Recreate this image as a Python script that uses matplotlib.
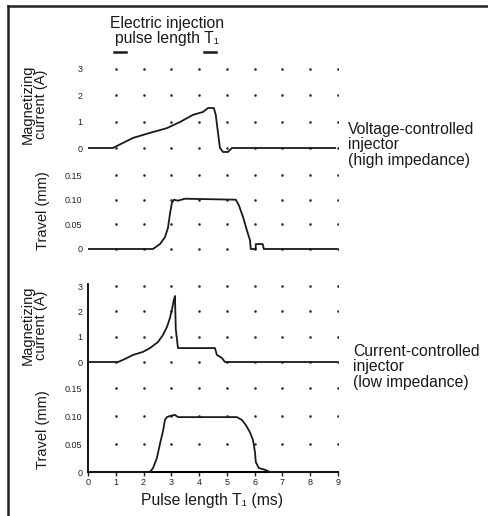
import matplotlib
matplotlib.use("Agg")
import matplotlib.pyplot as plt
from matplotlib.lines import Line2D
import numpy as np

plt.rcParams['font.family'] = ['Liberation Sans', 'DejaVu Sans']

# ---------------- data ----------------
x_ticks = [0, 1, 2, 3, 4, 5, 6, 7, 8, 9]
x_tick_labels = ["0", "1", "2", "3", "4", "5", "6", "7", "8", "9"]
current_ticks = [0, 1, 2, 3]
current_tick_labels = ["0", "1", "2", "3"]
travel_ticks = [0, 0.05, 0.10, 0.15]
travel_tick_labels = ["0", "0.05", "0.10", "0.15"]

pulse_start = 1.15
pulse_end = 4.39

# voltage-controlled injector: magnetizing current (A)
v_cur_t = [0, 0.9, 0.97, 1.62, 2.23, 2.84, 3.31, 3.78, 4.14, 4.32, 4.53, 4.60,
           4.68, 4.75, 4.86, 5.04, 5.18, 8.9]
v_cur_i = [0, 0, 0.04, 0.38, 0.57, 0.75, 0.98, 1.25, 1.36, 1.51, 1.51, 1.25,
           0.57, 0, -0.15, -0.15, 0, 0]
# voltage-controlled injector: needle travel (mm)
v_trv_t = [0, 2.34, 2.59, 2.77, 2.88, 2.95, 3.02, 3.09, 3.24, 3.49, 5.32, 5.43,
           5.58, 5.72, 5.83, 5.86, 6.04, 6.04, 6.29, 6.33, 8.96]
v_trv_s = [0, 0, 0.01, 0.024, 0.043, 0.071, 0.093, 0.10, 0.098, 0.102, 0.10,
           0.089, 0.065, 0.038, 0.018, 0, 0, 0.01, 0.01, 0, 0]
# current-controlled injector: magnetizing current (A)
c_cur_t = [0, 1.08, 1.33, 1.62, 1.98, 2.23, 2.52, 2.70, 2.84, 2.95, 3.02, 3.09,
           3.13, 3.16, 3.24, 3.31, 4.57, 4.64, 4.82, 4.93, 8.96]
c_cur_i = [0, 0, 0.12, 0.28, 0.40, 0.55, 0.79, 1.07, 1.38, 1.74, 2.06, 2.45,
           2.61, 1.3, 0.55, 0.55, 0.55, 0.28, 0.16, 0, 0]
# current-controlled injector: needle travel (mm)
c_trv_t = [0, 2.23, 2.34, 2.48, 2.59, 2.70, 2.77, 2.84, 2.95, 3.13, 3.24, 5.36,
           5.54, 5.68, 5.83, 5.94, 6.01, 6.04, 6.15, 6.37, 6.55, 9.0]
c_trv_s = [0, 0, 0.007, 0.025, 0.05, 0.073, 0.093, 0.098, 0.10, 0.102, 0.098,
           0.098, 0.093, 0.084, 0.071, 0.057, 0.036, 0.018, 0.007, 0.004, 0, 0]

# ---------------- layout ----------------
W, H = 489, 516
fig = plt.figure(figsize=(W / 100, H / 100), dpi=100)

def fx(px):
    return px / W

def fy(py):
    return 1 - py / H

X0, X1 = 88, 338

def make_ax(y0, scale, lo, hi):
    bottom = y0 - lo * scale
    top = y0 - hi * scale
    ax = fig.add_axes([fx(X0), fy(bottom), (X1 - X0) / W, (bottom - top) / H])
    ax.set_xlim(0, 9)
    ax.set_ylim(lo, hi)
    ax.patch.set_alpha(0)
    for s in ax.spines.values():
        s.set_visible(False)
    ax.tick_params(axis='both', length=0, labelsize=6.5, pad=4, colors='#222')
    ax.set_xticks([])
    return ax

lc = '#1a1a1a'
lw = 1.3

def dots(ax, levels):
    X, Y = np.meshgrid(x_ticks[1:], levels)
    ax.plot(X.ravel(), Y.ravel(), ls='none', marker='o', ms=1.9, color='#333333',
            mec='none', zorder=1)

# panel 1
ax1 = make_ax(148, 26.5, -0.35, 3.2)
dots(ax1, current_ticks)
ax1.set_yticks(current_ticks)
ax1.set_yticklabels(current_tick_labels)
ax1.plot(v_cur_t, v_cur_i, color=lc, lw=lw, zorder=3)
for p in (pulse_start, pulse_end):
    ax1.plot([p - 0.2, p + 0.2], [3.62, 3.62], color=lc, lw=1.8, clip_on=False)

# panel 2
ax2 = make_ax(249, 493, -0.015, 0.16)
dots(ax2, travel_ticks)
ax2.set_yticks(travel_ticks)
ax2.set_yticklabels(travel_tick_labels)
ax2.plot(v_trv_t, v_trv_s, color=lc, lw=lw, zorder=3)

# panel 3
ax3 = make_ax(362, 25.3, -0.8, 3.1)
dots(ax3, current_ticks)
ax3.set_yticks(current_ticks)
ax3.set_yticklabels(current_tick_labels)
ax3.spines['left'].set_visible(True)
ax3.spines['left'].set_linewidth(1.3)
ax3.plot(c_cur_t, c_cur_i, color=lc, lw=lw, zorder=3)

# panel 4
ax4 = make_ax(472, 560, 0, 0.16)
dots(ax4, travel_ticks)
ax4.set_yticks(travel_ticks)
ax4.set_yticklabels(travel_tick_labels)
ax4.spines['left'].set_visible(True)
ax4.spines['left'].set_linewidth(1.3)
ax4.spines['bottom'].set_visible(True)
ax4.spines['bottom'].set_linewidth(1.5)
ax4.set_xticks(x_ticks)
ax4.set_xticklabels(x_tick_labels)
ax4.tick_params(axis='x', length=3, width=1, direction='out', pad=1.5,
                labelsize=6.5)
ax4.plot(c_trv_t, c_trv_s, color=lc, lw=lw, zorder=3, clip_on=False)

# ---------------- texts ----------------
tc = '#1a1a1a'
fs = 11.3
fsv = 10.5
fig.text(fx(167), fy(31), "Electric injection\npulse length T\u2081", ha='center',
         va='center', fontsize=fs, color=tc, linespacing=1.0)
fig.text(fx(212), fy(500), "Pulse length T\u2081 (ms)", ha='center', va='center',
         fontsize=fs, color=tc)
fig.text(fx(34.5), fy(104), "Magnetizing\ncurrent (A)", rotation=90, ha='center',
         va='center', fontsize=fsv, color=tc, linespacing=0.92)
fig.text(fx(34.5), fy(325), "Magnetizing\ncurrent (A)", rotation=90, ha='center',
         va='center', fontsize=fsv, color=tc, linespacing=0.92)
fig.text(fx(43), fy(211), "Travel (mm)", rotation=90, ha='center',
         va='center', fontsize=fsv, color=tc)
fig.text(fx(43), fy(430), "Travel (mm)", rotation=90, ha='center',
         va='center', fontsize=fsv, color=tc)
fig.text(fx(348), fy(145), "Voltage-controlled\ninjector\n(high impedance)",
         ha='left', va='center', fontsize=fs, color=tc, linespacing=1.02)
fig.text(fx(353), fy(367), "Current-controlled\ninjector\n(low impedance)",
         ha='left', va='center', fontsize=fs, color=tc, linespacing=1.02)

# frame (top and left)
fig.add_artist(Line2D([fx(8), 1.0], [fy(6), fy(6)], color='#222222', lw=1.8,
                      transform=fig.transFigure))
fig.add_artist(Line2D([fx(8), fx(8)], [fy(6), fy(515)], color='#222222', lw=1.8,
                      transform=fig.transFigure))

fig.savefig("out.png", dpi=100, facecolor='white')
